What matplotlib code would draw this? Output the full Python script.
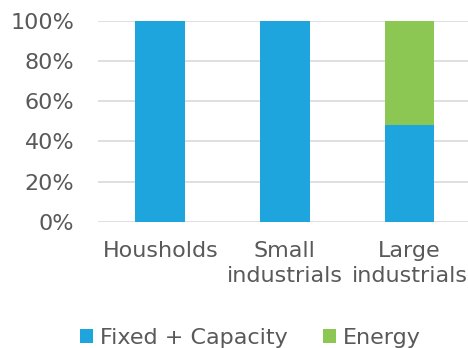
import numpy as np
import matplotlib.pyplot as plt
from matplotlib.ticker import PercentFormatter

categories = ["Housholds", "Small\nindustrials", "Large\nindustrials"]
fixed_capacity = [1.00, 1.00, 0.48]
energy = [0.00, 0.00, 0.52]

blue = "#1FA5DE"
green = "#8CC653"
text_col = "#595959"

fig = plt.figure(figsize=(4.68, 3.48), dpi=100)
ax = fig.add_axes([98 / 468, 1 - 221.7 / 348, 370 / 468, (221.7 - 21) / 348])

x = np.arange(len(categories))
ax.bar(x, fixed_capacity, width=0.4, color=blue, label="Fixed + Capacity", zorder=3)
ax.bar(x, energy, width=0.4, bottom=fixed_capacity, color=green, label="Energy", zorder=3)

ax.set_xlim(-0.5, 2.47)
ax.set_ylim(0, 1)
ax.set_yticks(np.arange(0, 1.01, 0.2))
ax.yaxis.set_major_formatter(PercentFormatter(1.0, decimals=0))
ax.grid(axis="y", color="#D9D9D9", linewidth=1.2, zorder=0)
ax.set_xticks(x)
ax.set_xticklabels(categories, linespacing=1.3)
ax.tick_params(axis="both", length=0, labelsize=16, labelcolor=text_col)
ax.tick_params(axis="y", pad=17)
ax.tick_params(axis="x", pad=14)
for s in ax.spines.values():
    s.set_visible(False)

fig.legend(loc="lower center", bbox_to_anchor=(0.535, -0.057), ncol=2, frameon=False,
           fontsize=16, handlelength=0.6, handleheight=0.6, handletextpad=0.3,
           columnspacing=1.6, labelcolor=text_col)

fig.savefig("out.png", dpi=100)
